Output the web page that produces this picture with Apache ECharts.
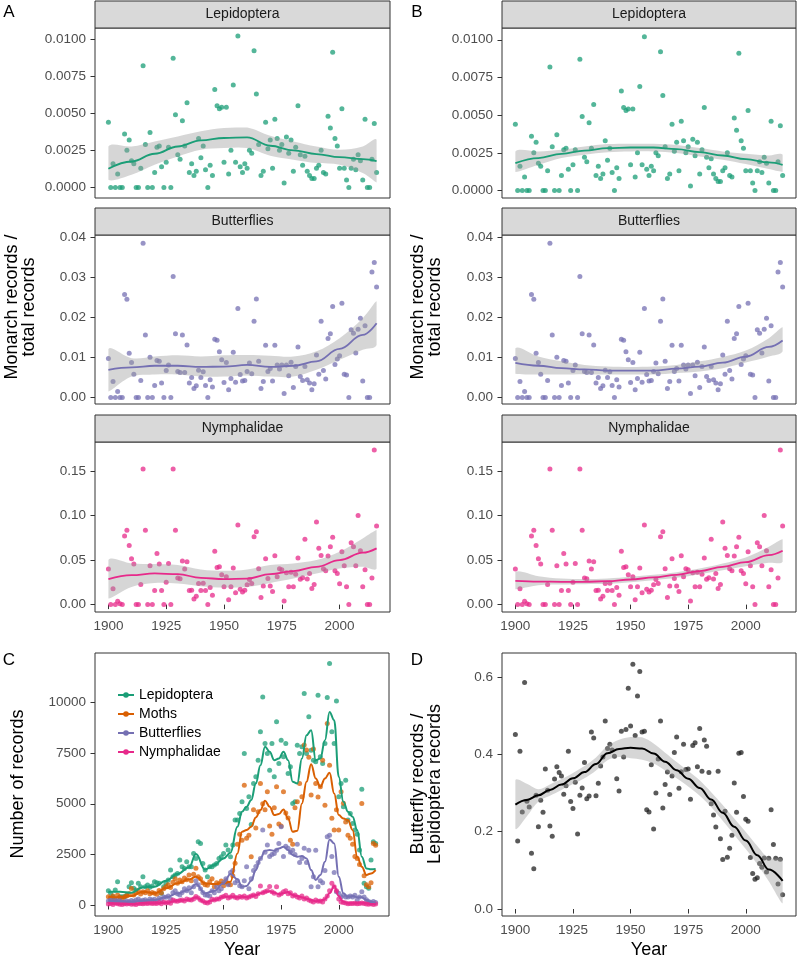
<!DOCTYPE html>
<html><head><meta charset="utf-8">
<script src="https://cdn.jsdelivr.net/npm/echarts@6/dist/echarts.min.js"></script>
<style>html,body{margin:0;padding:0;background:#fff}#c{width:798px;height:958px}</style>
</head><body><div id="c"></div>
<script>
// ---------- categories / ticks ----------
const years = []; for (let y = 1900; y <= 2016; y++) years.push(y);
const xTicks = [1900, 1925, 1950, 1975, 2000];
const lepTicks = [0, 0.0025, 0.005, 0.0075, 0.01];
const butTicks = [0, 0.01, 0.02, 0.03, 0.04];
const nymTicks = [0, 0.05, 0.10, 0.15];
const countTicks = [0, 2500, 5000, 7500, 10000];
const propTicks = [0, 0.2, 0.4, 0.6];
const facetNames = ['Lepidoptera', 'Butterflies', 'Nymphalidae'];
const legendNames = ['Lepidoptera', 'Moths', 'Butterflies', 'Nymphalidae'];

// ---------- monarch ratio points (1900..2016) ----------
const lepRatio = [0.0044,0,0.0016,0,0.0009,0,0,0.0036,0.0025,0.0032,
 0.0018,0.0016,0,0,0.0013,0.0082,0.0029,0,0.0037,0,
 0.001,0.0027,0.0028,0.0014,0,0.0017,0.0027,0,0.0087,0.0049,
 0.0022,0.0019,0.0045,0.0028,0.0057,0.001,0.0016,0.0008,0.0011,0.0033,
 0.002,0.0028,0.0012,0,0.0015,0.0008,0.0066,0.0055,0.0053,0.0054,
 0.0017,0.0054,0.0009,0.0025,0.0069,0.0017,0.0102,0.0014,0.001,0.0016,
 0.0013,0.0025,0.0023,0.0092,0.0063,0.0029,0.0008,0.0011,0.0044,0.0026,
 0.0032,0.0013,0.0046,0.0033,0.0025,0.0029,0.0003,0.0034,0.0023,0.0032,
 0.0011,0.0027,0.0055,0.0022,0.0015,0.0021,0.0011,0.0008,0.0006,0.0006,
 0.0013,0.0015,0.0025,0.001,0.0009,0.0048,0.004,0.0091,0.0033,0.0028,
 0.0013,0.0053,0.0013,0.0005,0,0.0013,0.0019,0.0012,0.0022,0.0018,
 0.0005,0.0046,0,0,0.0019,0.0043,0.001];
const butRatio = [0.0097,0,0.004,0,0.0015,0,0,0.0257,0.0245,0.011,
 0.0087,0.0058,0,0,0.0042,0.0385,0.0156,0,0.01,0,
 0.003,0.0092,0.009,0.0036,0,0.0067,0.0081,0,0.0302,0.0159,
 0.0065,0.0062,0.0156,0.0062,0.0131,0.0036,0.005,0.0022,0.0029,0.0068,
 0.005,0.0064,0.003,0,0.0044,0.0026,0.0145,0.0143,0.0114,0.0094,
 0.0037,0.0087,0.0019,0.0047,0.0113,0.0038,0.0222,0.0057,0.0041,0.0042,
 0.0065,0.0086,0.0059,0.019,0.0246,0.009,0.0022,0.004,0.013,0.0065,
 0.0072,0.0041,0.013,0.0081,0.0071,0.0081,0.001,0.0081,0.0054,0.0088,
 0.0025,0.0077,0.0126,0.0052,0.0042,0.0077,0.0044,0.0036,0.0019,0.0034,
 0.0106,0.0058,0.019,0.0067,0.0046,0.0147,0.0159,0.0227,0.0082,0.0096,
 0.0104,0.0235,0.0058,0.0056,0,0.0169,0.016,0.0111,0.017,0.0198,
 0.0041,0.0179,0,0,0.0313,0.0337,0.0276];
const nymRatio = [0.04,0,0.0177,0,0.0038,0.001,0,0.077,0.0835,0.0665,
 0.0515,0.0455,0,0,0.0226,0.1523,0.0835,0,0.0436,0,
 0.0158,0.0575,0.0455,0.0158,0,0.0252,0.0462,0,0.1523,0.0835,
 0.03,0.029,0.0489,0.0399,0.0481,0.0158,0.016,0.0064,0.0094,0.0237,
 0.0158,0.024,0.0158,0,0.0192,0.0105,0.06,0.0417,0.0425,0.0335,
 0.02,0.0312,0.0056,0.02,0.041,0.0132,0.0895,0.0173,0.0143,0.016,
 0.0222,0.0282,0.0237,0.0763,0.082,0.0402,0.0079,0.021,0.0515,0.0293,
 0.021,0.0147,0.0549,0.0312,0.0402,0.0391,0.0041,0.0357,0.02,0.0365,
 0.02,0.0342,0.0523,0.0286,0.0301,0.0733,0.0289,0.035,0.018,0.0226,
 0.0929,0.0632,0.0553,0.0402,0.038,0.0545,0.065,0.0756,0.038,0.035,
 0.0233,0.0594,0.0436,0.02,0,0.0695,0.065,0.0436,0.1,0.0605,
 0.02,0.0391,0,0,0.03,0.1737,0.0883];

// ---------- smoothers (knots every 10 years) ----------
const knots10 = [1900,1910,1920,1930,1940,1950,1960,1970,1980,1990,2000,2010,2016];
const lepSmA = [0.00126,0.00175,0.00227,0.00276,0.00317,0.00333,0.00337,0.00281,0.0025,0.00225,0.00204,0.00191,0.00178];
const lepLoA = [0.00052,0.00085,0.00153,0.00209,0.00254,0.00265,0.00265,0.00213,0.00187,0.00164,0.00153,0.00097,0.00034];
const lepHiA = [0.00276,0.00276,0.0031,0.00344,0.00378,0.004,0.00404,0.00348,0.0031,0.00276,0.00254,0.00276,0.00321];
const lepSmB = [0.00181,0.00215,0.00243,0.00265,0.00281,0.00285,0.00285,0.00274,0.00254,0.00232,0.00208,0.00186,0.0017];
const lepLoB = [0.00122,0.0017,0.00215,0.00237,0.00254,0.00259,0.00259,0.00248,0.00226,0.00204,0.00175,0.00142,0.00125];
const lepHiB = [0.00259,0.00259,0.0027,0.00292,0.00308,0.0031,0.0031,0.00301,0.00281,0.00259,0.00243,0.00232,0.00237];
const butSmA = [0.0069,0.0075,0.0079,0.0079,0.0076,0.0077,0.0081,0.0076,0.0079,0.009,0.0121,0.0156,0.0185];
const butLoA = [0.0015,0.0052,0.0057,0.0057,0.0052,0.0052,0.0055,0.0052,0.0052,0.0069,0.0094,0.0119,0.0131];
const butHiA = [0.0121,0.0098,0.0102,0.0105,0.0102,0.0105,0.0106,0.0104,0.0102,0.0115,0.0148,0.0198,0.024];
const butSmB = [0.0086,0.0079,0.0073,0.007,0.0067,0.0067,0.0067,0.0072,0.0077,0.0087,0.0102,0.0126,0.0142];
const butLoB = [0.0059,0.0057,0.0057,0.0058,0.0057,0.0057,0.0057,0.0061,0.0065,0.0073,0.0087,0.0102,0.0115];
const butHiB = [0.0123,0.0102,0.009,0.0081,0.0077,0.0076,0.0077,0.0081,0.009,0.0101,0.0117,0.0148,0.0175];
const nymSmA = [0.0286,0.0331,0.035,0.0342,0.0301,0.0286,0.0293,0.0342,0.0376,0.0425,0.05,0.0583,0.0632];
const nymLoA = [0.0068,0.0199,0.0244,0.0237,0.0207,0.0192,0.0199,0.0244,0.0293,0.035,0.0406,0.0425,0.0406];
const nymHiA = [0.05,0.0462,0.0455,0.0444,0.0395,0.038,0.0395,0.0444,0.0462,0.05,0.0594,0.0744,0.0838];
const nymSmB = [0.0267,0.0259,0.0256,0.0256,0.0263,0.0282,0.0305,0.0335,0.0376,0.0425,0.0477,0.0556,0.0605];
const nymLoB = [0.0173,0.0218,0.0226,0.0229,0.0233,0.0252,0.0274,0.0301,0.0342,0.0387,0.0432,0.047,0.0481];
const nymHiB = [0.0368,0.032,0.0293,0.0286,0.0293,0.0312,0.0335,0.0365,0.0406,0.0462,0.053,0.065,0.0733];

// ---------- panel C: record counts (1900..2016) ----------
const lepCount = [707,576,411,740,1151,411,411,411,493,905,
 1102,822,740,1069,905,1398,905,987,872,938,
 1151,1102,1069,576,905,1069,1234,1727,1398,1480,
 1562,2220,1891,1809,2138,1891,1891,2549,2303,3125,
 3043,2056,1727,1398,1891,1891,1974,2056,2303,2385,
 2549,2960,2714,2385,2960,4194,4194,4523,5099,7483,
 4770,5345,3980,6003,6332,7154,8552,10279,7977,7483,
 6661,7977,6332,9046,6990,8141,7319,7977,6497,6826,
 5016,5099,7895,7483,7812,10444,7483,9293,7648,7154,
 7072,10362,7319,6990,7977,10247,11924,8552,7977,10082,
 5345,6003,4852,6168,4194,4523,4030,3701,3500,2714,
 5720,1069,905,822,2220,3125,3043];
const mothCount = [411,330,440,250,500,380,300,410,460,560,
 820,500,600,700,540,660,600,700,560,620,
 580,530,720,590,800,900,1000,870,1130,1300,
 1070,1230,1150,1330,1250,1480,1200,1520,1810,1400,
 1300,1100,1000,970,1150,1300,900,1100,1050,1180,
 950,1200,1060,1000,1450,2060,3000,3500,3200,5920,
 3300,3450,2380,4700,3800,4600,6000,5000,4700,5590,
 3900,3500,4800,5840,4000,3900,5600,4550,4300,3200,
 3000,4800,5100,6000,5350,7900,7650,7300,5430,7700,
 6000,5340,5840,7150,4930,8960,6900,4280,3700,4700,
 3700,5590,5020,4100,3450,3300,3000,2400,2300,2000,
 5016,1450,1000,900,1100,3040,2950];
const butCount = [200,250,150,300,180,220,120,150,200,160,
 220,180,250,300,200,230,260,180,300,250,
 280,200,330,250,400,380,450,300,600,700,
 550,500,620,800,700,850,600,900,1200,1000,
 800,620,500,480,440,700,600,900,700,800,
 1100,1300,1000,1600,1700,1100,1200,950,900,1200,
 1890,800,1300,1700,1900,2100,2300,3700,2600,2960,
 2400,2500,2550,2700,3040,3860,2400,2900,2800,2600,
 2700,2500,3000,2100,2300,2800,2100,2710,900,1400,
 2710,900,1200,1100,1700,3370,3450,2400,1600,650,
 580,400,480,400,400,440,400,480,250,400,
 650,400,260,170,120,170,120];
const nymCount = [50,80,30,100,60,40,30,60,50,70,
 40,50,30,70,80,60,90,70,100,80,
 90,70,120,60,150,100,130,90,250,200,
 180,220,250,200,300,260,250,300,420,350,
 250,200,120,100,150,280,250,300,300,380,
 420,480,350,400,480,380,350,420,380,450,
 350,400,450,500,420,550,940,600,650,700,
 920,650,580,900,500,550,650,700,550,600,
 450,500,400,350,450,300,350,250,200,150,
 250,180,200,150,300,450,700,1070,900,700,
 300,150,120,100,60,80,70,90,60,80,
 100,70,50,40,60,30,50];
const cKnots = [1900,1905,1910,1915,1920,1925,1930,1935,1938,1942,1946,1950,1953,1956,
 1958,1960,1962,1964,1966,1968,1970,1972,1974,1976,1978,1980,1982,1984,1986,1988,
 1990,1992,1994,1996,1998,2000,2002,2004,2006,2008,2010,2012,2014,2016];
const lepCountSm = [658,658,609,872,905,1200,1530,1860,2516,1750,1974,2303,2582,3865,
 4605,4852,5181,6003,6908,7812,7566,7154,7237,7566,7154,6085,6003,7237,8388,8635,
 7154,7237,8141,9539,9128,6332,5099,4605,4358,3701,2385,1809,1760,1776];
const mothCountSm = [411,378,444,658,576,822,1069,1266,1398,1069,1036,1069,1151,2549,
 3618,3701,3865,4326,4687,5148,4852,4441,4490,4720,4276,3618,3668,5016,6085,6957,
 6250,5839,6250,6530,5510,4441,4276,4194,3701,2385,1891,1480,1562,1727];
const butCountSm = [214,181,164,214,247,378,576,740,1036,576,707,1069,1530,1266,
 905,938,1200,1727,2303,2681,2714,2681,2796,2878,2714,2467,2385,2418,2303,1727,
 1234,1480,2138,3240,3043,1398,576,411,444,378,378,247,148,82];
const nymCountSm = [82,49,49,82,82,115,214,247,378,132,247,411,411,378,
 411,378,444,493,576,658,674,609,543,576,641,493,444,378,312,247,
 181,214,280,576,938,444,164,82,82,99,115,82,49,49];

// ---------- panel D: butterfly / lepidoptera ratio ----------
const propRatio = [0.451,0.176,0.408,0.251,0.586,0.279,0.264,0.144,0.104,0.294,
 0.213,0.281,0.25,0.362,0.307,0.215,0.188,0.336,0.368,0.353,
 0.344,0.297,0.319,0.408,0.278,0.26,0.328,0.194,0.294,0.313,
 0.379,0.285,0.292,0.458,0.442,0.293,0.325,0.37,0.393,0.486,
 0.415,0.426,0.411,0.395,0.337,0.305,0.46,0.393,0.464,0.571,
 0.473,0.633,0.449,0.551,0.614,0.458,0.46,0.257,0.251,0.373,
 0.207,0.3,0.388,0.486,0.261,0.322,0.354,0.296,0.344,0.405,
 0.445,0.312,0.355,0.426,0.361,0.362,0.284,0.423,0.43,0.368,
 0.467,0.356,0.437,0.421,0.353,0.272,0.243,0.212,0.356,0.182,
 0.128,0.253,0.134,0.157,0.191,0.326,0.25,0.403,0.405,0.291,
 0.232,0.227,0.133,0.092,0.077,0.081,0.118,0.108,0.132,0.096,
 0.131,0.257,0.167,0.131,0.065,0.129,0.037];
const knots5 = [1900,1905,1910,1915,1920,1925,1930,1935,1940,1945,1950,1955,1960,1965,1970,1975,1980,1985,1990,1995,2000,2005,2010,2016];
const propSm = [0.27,0.282,0.294,0.308,0.322,0.338,0.354,0.375,0.403,0.414,0.417,0.415,0.402,0.381,0.359,0.337,0.313,0.283,0.249,0.213,0.177,0.139,0.102,0.073];
const propLo = [0.208,0.24,0.278,0.293,0.308,0.323,0.338,0.358,0.385,0.393,0.39,0.386,0.376,0.358,0.338,0.317,0.293,0.264,0.228,0.192,0.155,0.116,0.072,0.015];
const propHi = [0.333,0.324,0.31,0.322,0.336,0.352,0.37,0.392,0.422,0.438,0.445,0.444,0.428,0.404,0.38,0.357,0.333,0.302,0.269,0.234,0.199,0.163,0.132,0.127];

// ---------- styling / layout ----------
const FONT = '"Liberation Sans", Arial, Helvetica, sans-serif';
const COL = { lep: '#1b9e77', moth: '#d95f02', but: '#7570b3', nym: '#e7298a', prop: '#222222' };
const X_MIN = 1894.2, X_MAX = 2021.8;
const BAND = 'rgba(153,153,153,0.4)';

const grids = [], xAxes = [], yAxes = [], series = [], graphics = [];

function addPanel(g, yr, yTicks, yFmt, showX) {
  const idx = grids.length;
  grids.push({ left: g.left, top: g.top, width: g.width, height: g.height, show: true,
    borderColor: '#333', borderWidth: 1, backgroundColor: '#fff' });
  xAxes.push({ type: 'value', gridIndex: idx, min: X_MIN, max: X_MAX,
    axisLine: { show: false }, splitLine: { show: false },
    axisTick: { show: showX, length: 4.5, lineStyle: { color: '#333', width: 1 }, customValues: xTicks },
    axisLabel: { show: showX, customValues: xTicks, color: '#4d4d4d', fontSize: 13.5, fontFamily: FONT, margin: 7, formatter: v => String(v) } });
  yAxes.push({ type: 'value', gridIndex: idx, min: yr[0], max: yr[1],
    axisLine: { show: false }, splitLine: { show: false },
    axisTick: { show: true, length: 4.5, lineStyle: { color: '#333', width: 1 }, customValues: yTicks },
    axisLabel: { customValues: yTicks, color: '#4d4d4d', fontSize: 13.5, fontFamily: FONT, margin: 9, formatter: yFmt } });
  return idx;
}
function pts(arr) { return years.map((y, i) => [y, arr[i]]); }
function kp(knots, arr) { return knots.map((k, i) => [k, arr[i]]); }
function scatter(idx, arr, color, name) {
  series.push({ type: 'scatter', name: name, xAxisIndex: idx, yAxisIndex: idx, data: pts(arr),
    symbolSize: 5, itemStyle: { color: color, opacity: 0.75 }, silent: true, z: 2 });
}
// confidence ribbon: one smoothed polygon through the upper and lower knots, placed by the axes
function band(idx, knots, lo, hi) {
  series.push({ type: 'custom', xAxisIndex: idx, yAxisIndex: idx, silent: true, z: 3,
    data: knots.map((k, i) => [k, lo[i], hi[i]]),
    encode: { x: 0, y: [1, 2] },
    renderItem: function (params, api) {
      if (params.dataIndex !== 0) return null;
      const up = knots.map((k, i) => api.coord([k, hi[i]]));
      const dn = knots.map((k, i) => api.coord([k, lo[i]])).reverse();
      const poly = up.concat(dn);
      let x0 = Infinity, y0 = Infinity, x1 = -Infinity, y1 = -Infinity;
      poly.forEach(p => { x0 = Math.min(x0, p[0]); x1 = Math.max(x1, p[0]); y0 = Math.min(y0, p[1]); y1 = Math.max(y1, p[1]); });
      return { type: 'polygon', shape: { points: poly, smooth: 0.35, smoothConstraint: [[x0, y0], [x1, y1]] },
        style: { fill: BAND, stroke: null } };
    } });
}
function smooth(idx, knots, arr, color, width, name) {
  series.push({ type: 'line', name: name, xAxisIndex: idx, yAxisIndex: idx, data: kp(knots, arr),
    smooth: 0.4, smoothMonotone: 'x', symbol: name ? 'circle' : 'none', symbolSize: 5, showSymbol: false,
    itemStyle: { color: color }, lineStyle: { color: color, width: width }, silent: true, z: 4 });
}
function strip(g, label) {
  graphics.push({ type: 'rect', shape: { x: g.left, y: g.top - 27, width: g.width, height: 27 },
    style: { fill: '#d9d9d9', stroke: '#333', lineWidth: 1 }, silent: true });
  graphics.push({ type: 'text', x: g.left + g.width / 2, y: g.top - 13.5,
    style: { text: label, fill: '#1a1a1a', font: '14px ' + FONT, align: 'center', verticalAlign: 'middle',
      textAlign: 'center', textVerticalAlign: 'middle' }, silent: true });
}
function label(x, y, text, size, rot, color, lh) {
  graphics.push({ type: 'text', x: x, y: y, rotation: rot || 0,
    style: { text: text, fill: color || '#000', font: size + 'px ' + FONT, align: 'center', verticalAlign: 'middle',
      textAlign: 'center', textVerticalAlign: 'middle', lineHeight: lh || size }, silent: true });
}

const fmtLep = v => v.toFixed(4), fmt2 = v => v.toFixed(2), fmtInt = v => String(v), fmt1 = v => v.toFixed(1);
const colLayout = { A: { left: 95, width: 295 }, B: { left: 502, width: 294 } };
const rowTops = [{ top: 28, height: 170 }, { top: 235, height: 169 }, { top: 442, height: 170 }];
const yRangesA = [[-0.00071, 0.01074], [-0.00165, 0.04057], [-0.0083, 0.1827]];
const yRangesB = [[-0.0005, 0.01078], [-0.00165, 0.04057], [-0.0083, 0.1827]];
const tickSets = [lepTicks, butTicks, nymTicks];
const fmts = [fmtLep, fmt2, fmt2];
const ratios = [lepRatio, butRatio, nymRatio];
const cols = [COL.lep, COL.but, COL.nym];
const smA = [[lepSmA, lepLoA, lepHiA], [butSmA, butLoA, butHiA], [nymSmA, nymLoA, nymHiA]];
const smB = [[lepSmB, lepLoB, lepHiB], [butSmB, butLoB, butHiB], [nymSmB, nymLoB, nymHiB]];

['A', 'B'].forEach(col => {
  for (let r = 0; r < 3; r++) {
    const g = { left: colLayout[col].left, width: colLayout[col].width, top: rowTops[r].top, height: rowTops[r].height };
    const idx = addPanel(g, col === 'A' ? yRangesA[r] : yRangesB[r], tickSets[r], fmts[r], r === 2);
    scatter(idx, ratios[r], cols[r]);
    const s = col === 'A' ? smA[r] : smB[r];
    band(idx, knots10, s[1], s[2]);
    smooth(idx, knots10, s[0], cols[r], 1.8);
    strip(g, facetNames[r]);
  }
});

// Panel C
const gC = { left: 95, top: 653, width: 294, height: 263 };
const iC = addPanel(gC, [-543, 12447], countTicks, fmtInt, true);
scatter(iC, lepCount, COL.lep, 'pL');
scatter(iC, mothCount, COL.moth, 'pM');
scatter(iC, butCount, COL.but, 'pB');
scatter(iC, nymCount, COL.nym, 'pN');
smooth(iC, cKnots, lepCountSm, COL.lep, 2, legendNames[0]);
smooth(iC, cKnots, mothCountSm, COL.moth, 2, legendNames[1]);
smooth(iC, cKnots, butCountSm, COL.but, 2, legendNames[2]);
smooth(iC, cKnots, nymCountSm, COL.nym, 2, legendNames[3]);

// Panel D
const gD = { left: 502, top: 653, width: 294, height: 263 };
const iD = addPanel(gD, [-0.018, 0.662], propTicks, fmt1, true);
scatter(iD, propRatio, COL.prop);
band(iD, knots5, propLo, propHi);
smooth(iD, knots5, propSm, '#000', 2);

// titles / letters
label(20.5, 307, 'Monarch records /\ntotal records', 18, Math.PI / 2, '#000', 17);
label(427, 307, 'Monarch records /\ntotal records', 18, Math.PI / 2, '#000', 17);
label(18.5, 784, 'Number of records', 18, Math.PI / 2, '#000', 18);
label(426.5, 784, 'Butterfly records /\nLepidoptera records', 18, Math.PI / 2, '#000', 17);
label(242, 950, 'Year', 18, 0, '#000', 18);
label(649, 950, 'Year', 18, 0, '#000', 18);
label(9, 12, 'A', 17); label(417, 12, 'B', 17);
label(9, 660, 'C', 17); label(417, 660, 'D', 17);

const chart = echarts.init(document.getElementById('c'), null, { renderer: 'canvas', width: 798, height: 958 });
chart.setOption({
  animation: false,
  backgroundColor: '#fff',
  textStyle: { fontFamily: FONT },
  grid: grids, xAxis: xAxes, yAxis: yAxes, series: series,
  legend: { data: legendNames, orient: 'vertical', left: 112, top: 683, itemWidth: 16, itemHeight: 7, itemGap: 5,
    selectedMode: false, textStyle: { fontSize: 14, color: '#000', fontFamily: FONT, lineHeight: 14 } },
  graphic: { elements: graphics }
});
</script></body></html>
